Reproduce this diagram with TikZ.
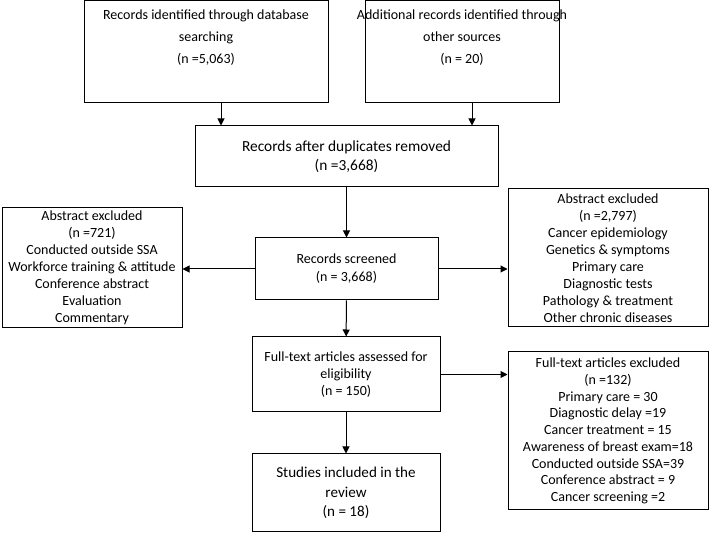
\documentclass[tikz,border=0pt]{standalone}
\usepackage{fontspec}
\setmainfont{Carlito}
\usetikzlibrary{arrows.meta}
\begin{document}
\begin{tikzpicture}[x=1pt,y=-1pt,
  box/.style={draw=black, line width=1pt, inner sep=0pt, align=center},
  txt/.style={inner sep=0pt, align=center},
  small/.style={font=\fontsize{14}{17}\selectfont},
  arr/.style={draw=black, line width=1pt, -{Triangle[length=7pt,width=7pt]}}]
\useasboundingbox (0,0) rectangle (710,534);
% top boxes
\node[box, minimum width=244pt, minimum height=102pt] (b1) at (206,52) {};
\node[txt, anchor=north, font=\fontsize{14}{22}\selectfont] (b1t) at (206,9.5) {Records identified through database\\searching\\(n =5,063)};
\node[box, minimum width=194pt, minimum height=102pt] (b2) at (462,52) {};
\node[txt, anchor=north, font=\fontsize{14}{22}\selectfont] (b2t) at (462,9.5) {Additional records identified through\\other sources\\(n = 20)};
% middle
\node[box, minimum width=303pt, minimum height=61pt, font=\fontsize{15.4}{19}\selectfont] (b3) at (346.5,156.5) {Records after duplicates removed\\(n =3,668)};
\node[box, minimum width=183pt, minimum height=62pt, font=\fontsize{14}{18}\selectfont] (b4) at (346.5,269) {Records screened\\(n = 3,668)};
\node[box, small, minimum width=180pt, minimum height=120pt] (l1) at (92,268) {Abstract excluded\\(n =721)\\Conducted outside SSA\\Workforce training \& attitude\\Conference abstract\\Evaluation\\Commentary};
\node[box, small, minimum width=200pt, minimum height=138pt] (r1) at (608,258) {Abstract excluded\\(n =2,797)\\Cancer epidemiology\\Genetics \& symptoms\\Primary care\\Diagnostic tests\\Pathology \& treatment\\Other chronic diseases};
\node[box, small, minimum width=188pt, minimum height=75pt] (b5) at (346,374.5) {Full-text articles assessed for\\eligibility\\(n = 150)};
\node[box, minimum width=188pt, minimum height=78pt, font=\fontsize{15.1}{19.5}\selectfont] (b6) at (346,493) {Studies included in the\\review\\(n = 18)};
\node[box, font=\fontsize{14}{16.75}\selectfont, minimum width=200pt, minimum height=158pt] (r2) at (608,431) {Full-text articles excluded\\(n =132)\\Primary care = 30\\Diagnostic delay =19\\Cancer treatment = 15\\Awareness of breast exam=18\\Conducted outside SSA=39\\Conference abstract = 9\\Cancer screening =2};
% connectors
\draw[arr] ([xshift=15pt]b1.south) -- ([xshift=15pt]b1.south |- b3.north);
\draw[arr] ([xshift=10pt]b2.south) -- ([xshift=10pt]b2.south |- b3.north);
\draw[arr] (b3) -- (b4);
\draw[arr] (b4) -- (b5);
\draw[arr] (b5) -- (b6);
\draw[arr] (b4.west) -- (b4.west -| l1.east);
\draw[arr] (b4.east) -- (b4.east -| r1.west);
\draw[arr] (b5.east) -- (b5.east -| r2.west);
\end{tikzpicture}
\end{document}
